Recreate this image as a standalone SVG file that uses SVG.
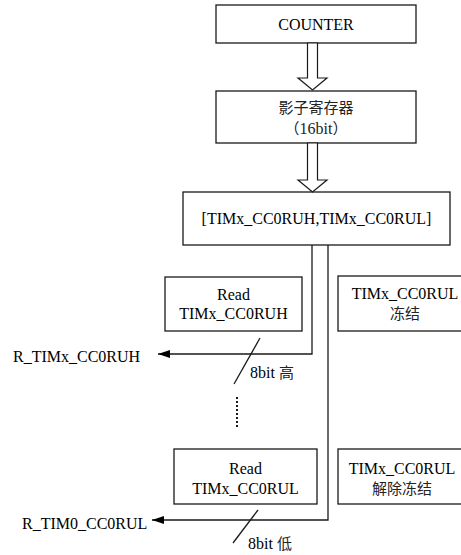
<svg xmlns="http://www.w3.org/2000/svg" width="461" height="555" viewBox="0 0 461 555">
<style>
.box{fill:#fff;stroke:#1a1a1a;stroke-width:1.3}
.hollow{fill:#fff;stroke:#1a1a1a;stroke-width:1.2;stroke-linejoin:miter}
.t{font-family:"Liberation Serif","Times New Roman","Noto Sans CJK SC",serif;font-size:16px;fill:#000;text-anchor:middle}
.c{font-family:"Noto Sans CJK SC",sans-serif;font-size:15px;fill:#222;text-anchor:middle}
.l{font-family:"Liberation Serif","Times New Roman","Noto Sans CJK SC",serif;font-size:16px;fill:#000}
.ln{fill:none;stroke:#1a1a1a;stroke-width:1.3}
.dot{fill:none;stroke:#1a1a1a;stroke-width:2;stroke-dasharray:2 2}
</style>
<defs>
<marker id="ah" markerUnits="userSpaceOnUse" markerWidth="14" markerHeight="10" refX="12" refY="5" orient="auto">
<path d="M0,1 L12,5 L0,9 Z" fill="#000"/>
</marker>
</defs>
<rect width="461" height="555" fill="#fff"/>
<g id="counter">
<rect class="box" x="216" y="5" width="200" height="38"/>
<text class="t" x="316" y="29.5">COUNTER</text>
</g>
<g id="shadow">
<rect class="box" x="216" y="91" width="200" height="52"/>
<text class="c" x="316" y="113">影子寄存器</text>
<text class="c" x="316" y="133.5">（<tspan font-family="Liberation Serif" font-size="16">16bit</tspan>）</text>
</g>
<g id="reg">
<rect class="box" x="183" y="192" width="267" height="53"/>
<text class="t" x="316.5" y="224">[TIMx_CC0RUH,TIMx_CC0RUL]</text>
</g>
<g id="readH">
<rect class="box" x="165" y="277" width="137" height="54"/>
<text class="t" x="233.5" y="299.5">Read</text>
<text class="t" x="233.5" y="319">TIMx_CC0RUH</text>
</g>
<g id="freeze">
<rect class="box" x="338" y="276" width="136" height="55"/>
<text class="t" x="405" y="298.5">TIMx_CC0RUL</text>
<text class="c" x="405" y="318.5">冻结</text>
</g>
<g id="readL">
<rect class="box" x="174" y="449" width="143" height="55"/>
<text class="t" x="245.5" y="473.5">Read</text>
<text class="t" x="245.5" y="493.5">TIMx_CC0RUL</text>
</g>
<g id="unfreeze">
<rect class="box" x="338" y="449" width="136" height="55"/>
<text class="t" x="402" y="473.5">TIMx_CC0RUL</text>
<text class="c" x="402" y="493.5">解除冻结</text>
</g>
<g id="labels">
<text class="l" x="13" y="361.5">R_TIMx_CC0RUH</text>
<text class="l" x="22" y="528.5">R_TIM0_CC0RUL</text>
<text class="l" x="250" y="378">8bit <tspan font-family="Noto Sans CJK SC" font-size="15" fill="#222">高</tspan></text>
<text class="l" x="248" y="549">8bit <tspan font-family="Noto Sans CJK SC" font-size="15" fill="#222">低</tspan></text>
</g>
<g id="connectors">
<polygon class="hollow" points="307.5,43 317.5,43 317.5,78 327,78 312.5,90 298,78 307.5,78"/>
<polygon class="hollow" points="307.5,143 317.5,143 317.5,180 327,180 312.5,192 298,180 307.5,180"/>
<polyline class="ln" points="312,245 312,354 158,354" marker-end="url(#ah)"/>
<polyline class="ln" points="328,245 328,520 152,520" marker-end="url(#ah)"/>
<line class="ln" x1="260" y1="338" x2="234" y2="384"/>
<line class="ln" x1="258" y1="510" x2="233" y2="543"/>
<line class="dot" x1="237" y1="397" x2="237" y2="428"/>
</g>
</svg>
